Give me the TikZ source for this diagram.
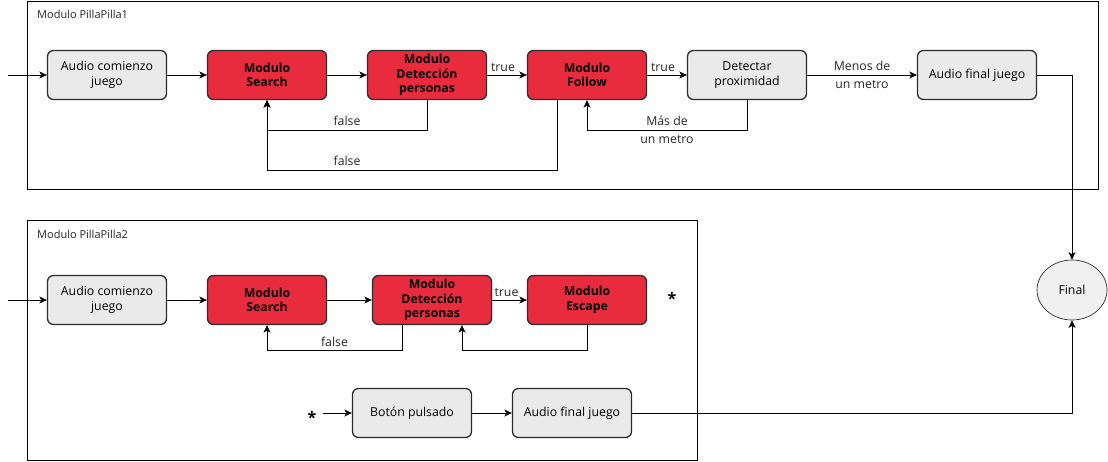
\documentclass[tikz,border=0pt]{standalone}
\usepackage{fontspec}
\setmainfont{Open Sans}
\usetikzlibrary{arrows.meta,shapes.geometric}
\definecolor{boxred}{RGB}{232,44,62}
\definecolor{boxgray}{RGB}{234,234,234}
\definecolor{boxline}{RGB}{45,45,45}
\definecolor{ellfill}{RGB}{240,240,240}
\begin{document}
\begin{tikzpicture}[x=1pt,y=-1pt,
  basebox/.style={draw=boxline, line width=1.3pt, rounded corners=6pt,
    minimum width=119pt, minimum height=49pt, align=center, inner sep=2pt,
    font=\fontsize{12.3}{14.5}\selectfont},
  graybox/.style={basebox, fill=boxgray},
  redbox/.style={basebox, fill=boxred, font=\bfseries\fontsize{12.3}{14.5}\selectfont},
  conn/.style={line width=0.8pt, draw=black, -{Stealth[length=7.5pt,width=7pt,inset=2pt]}},
  lbl/.style={font=\fontsize{12.3}{18}\selectfont, inner sep=2pt, align=center, text=black!85},
  title/.style={font=\fontsize{11}{13}\selectfont, anchor=west, inner sep=0pt, text=black!85},
  star/.style={font=\bfseries\fontsize{16}{16}\selectfont, inner sep=0pt},
  cont/.style={draw=black, line width=0.8pt}
]
\useasboundingbox (0,0) rectangle (1108,461);

% containers
\draw[cont] (27,1) rectangle (1098,189);
\node[title] (t1) at (37,14) {Modulo PillaPilla1};
\draw[cont] (27,220) rectangle (697,460);
\node[title] (t2) at (37,234) {Modulo PillaPilla2};

% top row
\coordinate (in1) at (8,75);
\node[graybox] (a1) at (107,75) {Audio comienzo\\juego};
\node[redbox] (s1) at (267,75) {Modulo\\Search};
\node[redbox] (d1) at (427,75) {Modulo\\Detección\\personas};
\node[redbox] (f1) at (587,75) {Modulo\\Follow};
\node[graybox] (p1) at (747,75) {Detectar\\proximidad};
\node[graybox] (af1) at (977,75) {Audio final juego};

\node[draw=boxline, line width=0.7pt, fill=ellfill, ellipse, minimum width=70pt, minimum height=60pt,
  font=\fontsize{12.3}{14.5}\selectfont] (fin) at (1072,290) {Final};

\draw[conn] (in1) -- (a1);
\draw[conn] (a1) -- (s1);
\draw[conn] (s1) -- (d1);
\draw[conn] (d1) -- node[lbl, above, xshift=-4pt, yshift=2pt, inner sep=1pt] {true} (f1);
\draw[conn] (f1) -- node[lbl, above, xshift=-4pt, yshift=2pt, inner sep=1pt] {true} (p1);
\draw[conn] (p1) -- node[lbl] {Menos de\\un metro} (af1);
\draw[conn] (d1.south) -- ++(0,30) -| node[lbl, pos=0.25, above, yshift=2pt] {false} (s1.south);
\draw[conn] ([xshift=-30pt]f1.south) -- ++(0,70) -| node[lbl, pos=0.362, above, yshift=2pt] {false} (s1.south);
\draw[conn] (p1.south) -- ++(0,30) -| node[lbl, pos=0.25] {Más de\\un metro} (f1.south);
\draw[conn] (af1.east) -| (fin.north);

% bottom row
\coordinate (in2) at (8,300);
\node[graybox] (a2) at (107,300) {Audio comienzo\\juego};
\node[redbox] (s2) at (267,300) {Modulo\\Search};
\node[redbox] (d2) at (432,300) {Modulo\\Detección\\personas};
\node[redbox] (e2) at (587,300) {Modulo\\Escape};
\node[star] (st1) at (672,298) {*};

\draw[conn] (in2) -- (a2);
\draw[conn] (a2) -- (s2);
\draw[conn] (s2) -- (d2);
\draw[conn] (d2) -- node[lbl, above, xshift=-3pt, yshift=2pt, inner sep=1pt] {true} (e2);
\draw[conn] ([xshift=-30pt]d2.south) -- ++(0,25) -| node[lbl, pos=0.25, above, yshift=1pt] {false} (s2.south);
\draw[conn] (e2.south) -- ++(0,25) -| ([xshift=30pt]d2.south);

\node[star] (st2) at (312,417) {*};
\coordinate (st2r) at (323,413);
\node[graybox] (b2) at (412,413) {Botón pulsado};
\node[graybox] (af2) at (572,413) {Audio final juego};
\draw[conn] (st2r) -- (b2);
\draw[conn] (b2) -- (af2);
\draw[conn] (af2.east) -| (fin.south);
\end{tikzpicture}
\end{document}
